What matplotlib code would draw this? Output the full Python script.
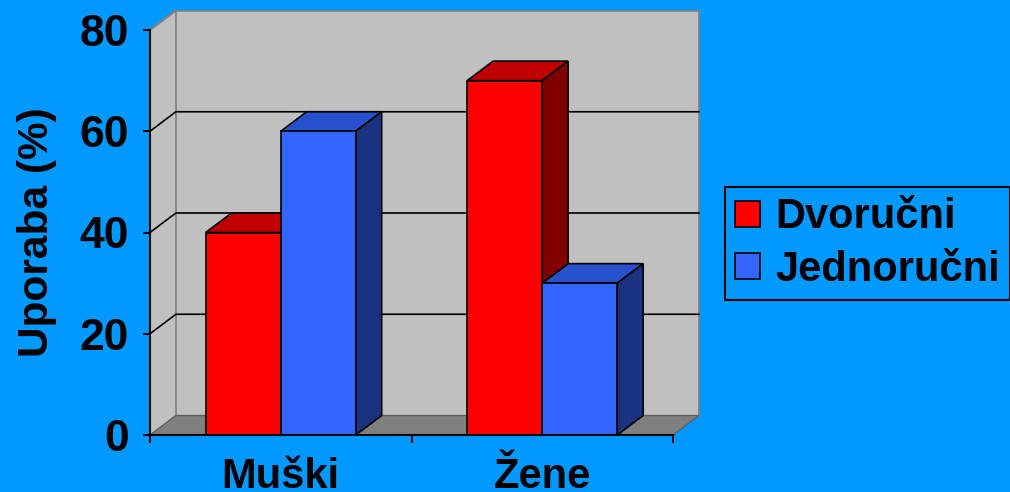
import matplotlib
matplotlib.use("Agg")
import matplotlib.pyplot as plt
from matplotlib.patches import Polygon, Patch

# data
categories = ["Muški", "Žene"]
series = ["Dvoručni", "Jednoručni"]
dvorucni = [40, 70]
jednorucni = [60, 30]
y_ticks = [0, 20, 40, 60, 80]

BG = "#0099FF"
WALL = "#C0C0C0"
FLOOR = "#808080"
FRONT = ["#FF0000", "#3366FF"]
TOP = ["#C00000", "#2650CC"]
SIDE = ["#800000", "#1A3380"]

W = 0.287          # bar width (category units)
DX, DY = 0.099, 3.85   # depth offset (data units)
LW = 1.2

plt.rcParams["font.family"] = ["Liberation Sans", "DejaVu Sans"]
plt.rcParams["font.weight"] = "bold"

fig = plt.figure(figsize=(10.1, 4.92), dpi=100, facecolor=BG)
ax = fig.add_axes([150 / 1010, 57 / 492, 523 / 1010, 405 / 492])
ax.set_xlim(0, 2)
ax.set_ylim(0, 80)
ax.patch.set_visible(False)


def poly(pts, fc, ec="black", lw=LW, z=1):
    ax.add_patch(Polygon(pts, closed=True, facecolor=fc, edgecolor=ec,
                         linewidth=lw, zorder=z, clip_on=False,
                         joinstyle="miter"))


ymax = y_ticks[-1]
# walls and floor
poly([(0, 0), (DX, DY), (DX, ymax + DY), (0, ymax)], WALL, ec="none", z=0.2)
poly([(DX, DY), (2 + DX, DY), (2 + DX, ymax + DY), (DX, ymax + DY)], WALL,
     ec="#808080", z=0.2)
poly([(0, 0), (2, 0), (2 + DX, DY), (DX, DY)], FLOOR, ec="#606060", lw=1.0, z=0.3)
ax.plot([0, DX], [ymax, ymax + DY], color="#808080", lw=1.5, zorder=0.4,
        clip_on=False)

# gridlines on side + back wall
for v in y_ticks[1:-1]:
    ax.plot([0, DX, 2 + DX], [v, v + DY, v + DY], color="black", lw=LW,
            zorder=0.5, clip_on=False)

# bars
for j, vals in enumerate([dvorucni, jednorucni]):
    z = 3 + j
    for i, v in enumerate(vals):
        x0 = i + 0.5 + (j - 1) * W
        poly([(x0, v), (x0 + W, v), (x0 + W + DX, v + DY), (x0 + DX, v + DY)],
             TOP[j], z=z)
        poly([(x0 + W, 0), (x0 + W + DX, DY), (x0 + W + DX, v + DY), (x0 + W, v)],
             SIDE[j], z=z)
    xs = [i + 0.5 + (j - 1) * W for i in range(len(vals))]
    ax.bar(xs, vals, width=W, align="edge", color=FRONT[j], edgecolor="black",
           linewidth=LW, zorder=z + 0.5)

# axes
for s in ["top", "right"]:
    ax.spines[s].set_visible(False)
for s in ["left", "bottom"]:
    ax.spines[s].set_linewidth(1.5)
    ax.spines[s].set_zorder(6)
ax.set_yticks(y_ticks)
ax.set_yticklabels([str(t) for t in y_ticks], fontsize=32, fontweight="bold")
ax.tick_params(axis="y", length=5, width=1.5, pad=10)
ax.set_xticks([0, 1, 2])
ax.set_xticklabels([])
ax.tick_params(axis="x", which="major", length=6, width=1.5)
ax.set_xticks([0.5, 1.5], minor=True)
ax.set_xticklabels(categories, minor=True, fontsize=30, fontweight="bold")
ax.tick_params(axis="x", which="minor", length=0, pad=16)
ax.set_ylabel("Uporaba (%)", fontsize=30.5, fontweight="bold", labelpad=16)

handles = [Patch(facecolor=FRONT[k], edgecolor="black", linewidth=1.2)
           for k in range(len(series))]
leg = fig.legend(handles, series, loc="upper left",
                 bbox_to_anchor=(725 / 1010, 1 - 187 / 492),
                 prop={"size": 30, "weight": "bold"}, frameon=True,
                 fancybox=False, facecolor=BG, edgecolor="black", framealpha=1,
                 handlelength=0.6, handleheight=0.6, handletextpad=0.35,
                 borderpad=0.25, labelspacing=0.3, borderaxespad=0)
leg.get_frame().set_linewidth(1.5)

fig.savefig("out.png", dpi=100, facecolor=BG)
